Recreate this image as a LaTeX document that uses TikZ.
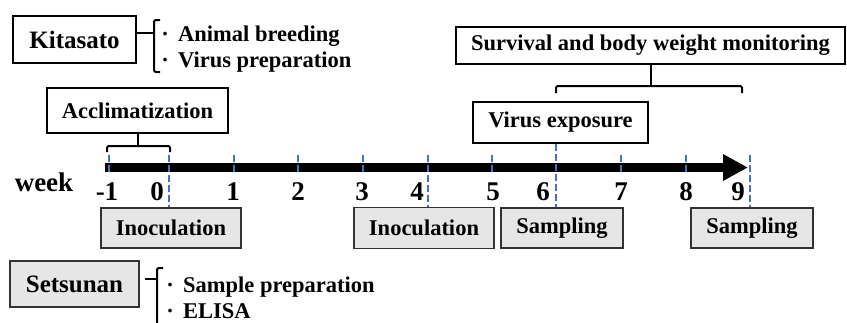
\documentclass[tikz,border=0pt]{standalone}
\usepackage{fontspec}
\setmainfont{Liberation Serif}
\usetikzlibrary{arrows.meta,calc}
\definecolor{tickblue}{HTML}{4472C4}
\definecolor{boxgray}{HTML}{E7E6E6}
\tikzset{
  box/.style={draw=black, line width=1.8pt, fill=white, inner sep=0pt, font=\fontsize{22.5}{27}\selectfont\bfseries},
  graybox/.style={box, draw=black!80, fill=boxgray},
  orgfont/.style={font=\fontsize{25}{30}\selectfont\bfseries},
  item/.style={anchor=base west, inner sep=0pt, font=\fontsize{22.5}{27}\selectfont\bfseries},
  num/.style={anchor=base, inner sep=0pt, font=\fontsize{27}{32}\selectfont\bfseries},
  conn/.style={draw=black, line width=2pt},
  brk/.style={draw=black, line width=2pt, rounded corners=2pt},
  tickline/.style={draw=tickblue, line width=2.2pt, dash pattern=on 7pt off 3pt},
}
\newcommand{\bul}{\makebox[10pt]{·}\hspace{8pt}}
\begin{document}
\begin{tikzpicture}[x=1pt,y=-1pt]
\useasboundingbox (0,0) rectangle (847,322);

% organisation boxes
\node[box, orgfont, minimum width=123pt, minimum height=47pt] (kit) at (74.5,39.5) {Kitasato};
\node[graybox, orgfont, minimum width=129pt, minimum height=46pt] (set) at (74.5,284) {Setsunan};

% item lists
\node[item] (ab) at (160,41) {\bul Animal breeding};
\node[item] (vp) at (160,67) {\bul Virus preparation};
\node[item] (sp) at (165,292) {\bul Sample preparation};
\node[item] (el) at (165,318) {\bul ELISA};

% Kitasato bracket
\coordinate (kb) at (154,33);
\draw[conn] (kb -| kit.east) -- (kb);
\draw[brk] (160,20) -- (154,20) -- (154,72) -- (160,72);

% Setsunan bracket
\coordinate (sbk) at (157,279);
\draw[conn] ($(sbk -| set.east)+(5,0)$) -- (sbk);
\draw[brk] (163,268) -- (157,268) -- (157,323);

% phase boxes
\node[box, minimum width=181pt, minimum height=45pt] (accl) at (137.5,110.5) {Acclimatization};
\node[box, minimum width=389pt, minimum height=37pt] (surv) at (650.5,45.5) {Survival and body weight monitoring};
\node[box, minimum width=175pt, minimum height=41pt] (virus) at (560.5,122.5) {Virus exposure};

% phase brackets
\coordinate (ab1) at (137.5,146);
\draw[conn] (accl.south) -- (ab1);
\draw[brk] (107,152) -- (107,146) -- (170,146) -- (170,152);
\coordinate (sb1) at (650.5,86);
\draw[conn] (surv.south) -- (sb1);
\draw[brk] (556,93) -- (556,86) -- (742,86) -- (742,93);

% event boxes
\node[graybox, minimum width=140pt, minimum height=40pt] (inoc1) at (171,228) {Inoculation};
\node[graybox, minimum width=140pt, minimum height=41pt] (inoc2) at (424,228) {Inoculation};
\node[graybox, minimum width=122pt, minimum height=40pt] (samp1) at (562,228) {Sampling};
\node[graybox, minimum width=122pt, minimum height=40pt] (samp2) at (752,228) {Sampling};

% timeline
\coordinate (tl0) at (105,167.5);
\coordinate (tl1) at (748,167.5);
\draw[line width=8.5pt, -{Triangle[length=25pt,width=25pt]}] (tl0) -- (tl1);

% ticks
\foreach \n/\x in {m1/109, 0/169, 1/234, 2/298, 3/363, 4/428, 5/492, 6/556, 7/621, 8/686, 9/750}
  \coordinate (t\n) at (\x,155);
\foreach \n in {m1,1,2,3,5,7,8}
  \draw[tickline] (t\n) -- ++(0,18);
\draw[tickline] (t0) -- (t0 |- inoc1.north);
\draw[tickline] (t4) -- (t4 |- inoc2.north);
\draw[tickline] (virus.south -| t6) -- (t6 |- samp1.north);
\draw[tickline] (t9) -- (t9 |- samp2.north);

% labels
\node[anchor=center, inner sep=0pt, font=\fontsize{27}{32}\selectfont\bfseries] (week) at (44,182) {week};
\foreach \n/\x/\t in {m1/107/-1, 0/157/0, 1/233/1, 2/298/2, 3/362/3, 4/417/4, 5/493/5, 6/543/6, 7/621/7, 8/686/8, 9/738/9}
  \node[num] (l\n) at (\x,200) {\t};
\end{tikzpicture}
\end{document}
